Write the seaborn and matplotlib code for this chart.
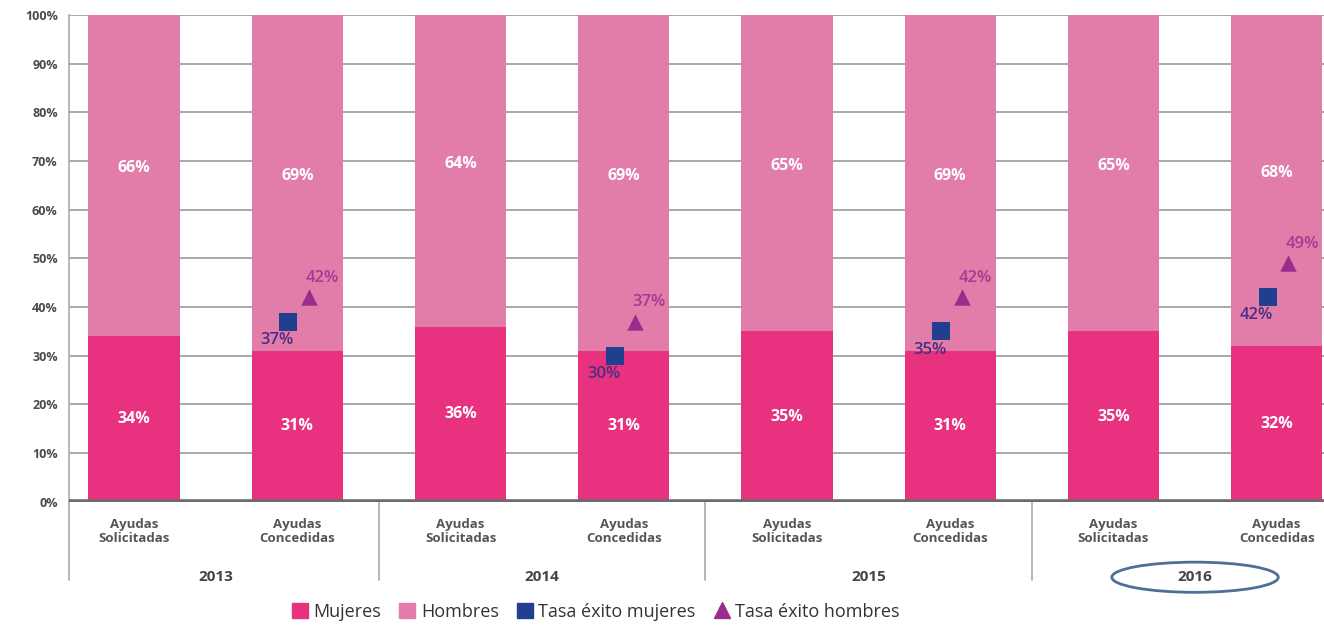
import numpy as np
import pandas as pd
import matplotlib
matplotlib.use("Agg")
import matplotlib.pyplot as plt
from matplotlib.patches import Ellipse, Patch
from matplotlib.lines import Line2D
import seaborn as sns

# ---------------- data ----------------
years = ["2013", "2014", "2015", "2016"]
tipos = ["Ayudas\nSolicitadas", "Ayudas\nConcedidas"]
mujeres = [34, 31, 36, 31, 35, 31, 35, 32]
hombres = [66, 69, 64, 69, 65, 69, 65, 68]
tasa_mujeres = [37, 30, 35, 42]   # only on "Concedidas" bars
tasa_hombres = [42, 37, 42, 49]

# ---------------- style ----------------
sns.set_style("white")
plt.rcParams["font.family"] = ["Open Sans", "DejaVu Sans"]

c_muj = "#E8327F"
c_hom = "#E27DAA"
c_tm = "#213E8F"
c_th = "#9A2C8C"
c_grid = "#9a9a9a"
c_txt = "#4a4a4a"

cats = [f"{y} {t}" for y in years for t in tipos]
df = pd.DataFrame({
    "cat": cats,
    "Mujeres": mujeres,
    "Hombres": hombres,
})
df["total"] = df["Mujeres"] + df["Hombres"]

fig = plt.figure(figsize=(13.24, 6.32), dpi=100)
ax = fig.add_axes([0.052, 0.206, 0.948, 0.770])

# stacked bars: full total first (hombres colour), then mujeres on top
sns.barplot(data=df, x="cat", y="total", order=cats, color=c_hom,
            saturation=1, width=0.56, linewidth=0, ax=ax, zorder=2)
sns.barplot(data=df, x="cat", y="Mujeres", order=cats, color=c_muj,
            saturation=1, width=0.56, linewidth=0, ax=ax, zorder=3)

ax.set_ylim(0, 100)
ax.set_xlim(-0.4, 7.29)
ax.set_yticks(np.arange(0, 101, 10))
ax.set_yticklabels([f"{v}%" for v in range(0, 101, 10)],
                   fontsize=9, fontweight="bold", color=c_txt)
for v in range(10, 101, 10):
    ax.axhline(v, color=c_grid, lw=1.2, zorder=1)
ax.axhline(0, color="#6b6b6b", lw=4, zorder=5)

for s in ["top", "right", "bottom"]:
    ax.spines[s].set_visible(False)
ax.spines["left"].set_color("#aaaaaa")
ax.spines["left"].set_linewidth(1.2)
ax.tick_params(axis="y", length=0, pad=8)
ax.tick_params(axis="x", length=0, pad=12)
ax.set_xlabel("")
ax.set_ylabel("")

ax.set_xticks(range(len(cats)))
ax.set_xticklabels([t for y in years for t in tipos], fontsize=9.5,
                   fontweight="bold", color="#555555", linespacing=1.1)

# segment labels
for i, (m, h) in enumerate(zip(mujeres, hombres)):
    ax.text(i, m / 2, f"{m}%", ha="center", va="center", color="white",
            fontsize=11.5, fontweight="bold", zorder=6)
    ax.text(i, m + h / 2 + 1.5, f"{h}%", ha="center", va="center",
            color="white", fontsize=11.5, fontweight="bold", zorder=6)

# success rate markers on "Concedidas" bars
xc = np.arange(1, len(cats), 2)
sns.scatterplot(x=xc - 0.055, y=tasa_mujeres, marker="s", s=150, color=c_tm,
                edgecolor=c_tm, linewidth=0, ax=ax, zorder=7, legend=False)
sns.scatterplot(x=xc + 0.07, y=tasa_hombres, marker="^", s=140, color=c_th,
                edgecolor=c_th, linewidth=0, ax=ax, zorder=7, legend=False)
for x, v in zip(xc - 0.055, tasa_mujeres):
    ax.annotate(f"{v}%", (x, v), xytext=(-8, -13), textcoords="offset points",
                ha="center", va="center", fontsize=12, fontweight="semibold",
                color="#4b2e83", zorder=8)
for x, v in zip(xc + 0.07, tasa_hombres):
    ax.annotate(f"{v}%", (x, v), xytext=(10, 14), textcoords="offset points",
                ha="center", va="center", fontsize=12, fontweight="semibold",
                color="#a33a93", zorder=8)

# year group labels and separators
tr = ax.get_xaxis_transform()
for k, y in enumerate(years):
    ax.text(2 * k + 0.5, -0.155, y, transform=tr, ha="center", va="center",
            fontsize=11, fontweight="bold", color="#444444")
for xs in [-0.4, 1.5, 3.5, 5.5]:
    ax.plot([xs, xs], [0, -0.16], transform=tr, color="#aaaaaa", lw=1.2,
            clip_on=False)
ax.add_patch(Ellipse((6.5, -0.155), 1.02, 0.062, transform=tr, fill=False,
                     edgecolor="#4f6f99", lw=2, clip_on=False))

# legend
handles = [
    Patch(color=c_muj, label="Mujeres"),
    Patch(color=c_hom, label="Hombres"),
    Patch(color=c_tm, label="Tasa éxito mujeres"),
    Line2D([], [], marker="^", color=c_th, linestyle="none", markersize=11,
           label="Tasa éxito hombres"),
]
fig.legend(handles=handles, loc="lower center", bbox_to_anchor=(0.45, -0.008),
           ncol=4, frameon=False, fontsize=13, handlelength=0.9,
           handleheight=0.9, handletextpad=0.3, columnspacing=1.0,
           labelcolor="#333333")

fig.savefig("out.png", dpi=100)
